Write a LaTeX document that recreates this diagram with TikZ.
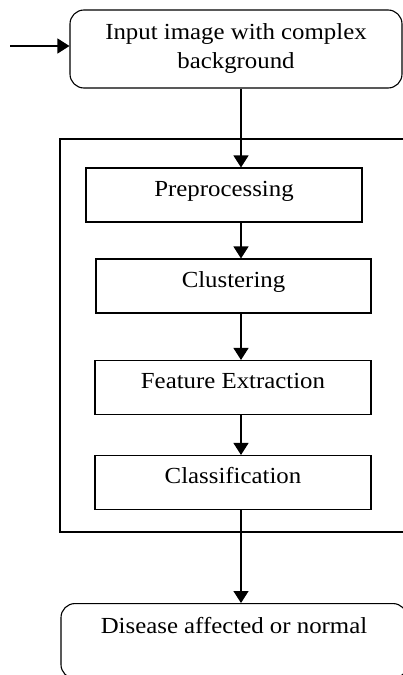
\documentclass[tikz,border=0pt]{standalone}
\usepackage{fontspec}
\setmainfont{Liberation Serif}[FakeStretch=1.08]
\usetikzlibrary{arrows.meta}
\begin{document}
\begin{tikzpicture}[x=1pt,y=-1pt,
  font=\fontsize{23}{29}\selectfont,
  stepbox/.style={draw, line width=1.1pt, inner sep=0pt, text height=28pt, text depth=26pt},
  roundbox/.style={draw, line width=1.1pt, rounded corners=14pt, inner sep=0pt},
  conn/.style={line width=1.3pt, -{Triangle[width=15pt,length=12pt]}}
]
\useasboundingbox (0,0) rectangle (403,675);
\clip (0,0) rectangle (403,675);
\node[roundbox, minimum width=332pt, minimum height=78pt, align=center] (in) at (236,49) {Input image with complex\\background};
\draw[line width=1.1pt] (60,139) rectangle (420,532);
\node[stepbox, minimum width=276pt] (pre) at (224,195) {Preprocessing};
\node[stepbox, minimum width=275pt] (clu) at (233.5,286) {Clustering};
\node[stepbox, minimum width=276pt] (fea) at (233,387.5) {Feature Extraction};
\node[stepbox, minimum width=276pt] (cla) at (233,482.5) {Classification};
\node[roundbox, minimum width=346pt, text height=30pt, text depth=45pt] (out) at (234,603) [anchor=north] {Disease affected or normal};
\coordinate (ax) at (241,0);
\coordinate (src) at (10,46);
\draw[conn] (src) -- (src -| in.west);
\draw[conn] (in.south -| ax) -- (pre.north -| ax);
\draw[conn] (pre.south -| ax) -- (clu.north -| ax);
\draw[conn] (clu.south -| ax) -- (fea.north -| ax);
\draw[conn] (fea.south -| ax) -- (cla.north -| ax);
\draw[conn] (cla.south -| ax) -- (out.north -| ax);
\end{tikzpicture}
\end{document}
